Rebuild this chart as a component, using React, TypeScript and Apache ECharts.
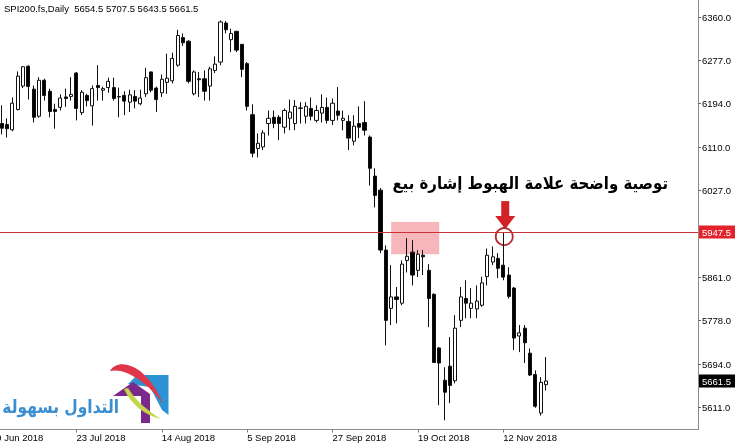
import React, { useEffect, useRef } from 'react';
import * as echarts from 'echarts';

// ---------- data ----------
const firstSlotDate = '2018-06-29'; // first weekday slot on the x axis (left of visible history)
const totalSlots = 133; // weekday slots across the plot, incl. empty future area
const leadBlank = 2; // slots before the first visible bar
const xTickLabels = ['29 Jun 2018', '23 Jul 2018', '14 Aug 2018', '5 Sep 2018', '27 Sep 2018', '19 Oct 2018', '12 Nov 2018'];
const yTickValues = [5611, 5694, 5778, 5861, 6027, 6110, 6194, 6277, 6360];

const opens = [
  6156, 6154, 6144, 6183, 6228, 6266, 6222, 6170, 6239, 6218,
  6183, 6187, 6207, 6208, 6253, 6177, 6210, 6190, 6229, 6220,
  6225, 6225, 6207, 6210, 6197, 6208, 6194, 6213, 6255, 6224,
  6215, 6235, 6238, 6268, 6321, 6314, 6213, 6242, 6242, 6228,
  6258, 6274, 6349, 6317, 6333, 6308, 6271, 6173, 6108, 6111,
  6156, 6168, 6168, 6149, 6166, 6156, 6185, 6170, 6185, 6162,
  6176, 6187, 6162, 6180, 6162, 6160, 6122, 6156, 6158, 6130,
  6055, 6028, 5913, 5801, 5823, 5811, 5893, 5909, 5874, 5903,
  5874, 5828, 5725, 5663, 5690, 5662, 5778, 5820, 5801, 5800,
  5807, 5862, 5890, 5897, 5884, 5865, 5840, 5748, 5763, 5715,
  5674, 5600, 5654.5,
];
const highs = [
  6191, 6166, 6206, 6256, 6266, 6268, 6229, 6245, 6242, 6223,
  6194, 6212, 6223, 6245, 6255, 6220, 6213, 6229, 6268, 6227,
  6244, 6244, 6225, 6218, 6221, 6220, 6221, 6263, 6256, 6227,
  6250, 6290, 6292, 6336, 6329, 6316, 6258, 6255, 6258, 6265,
  6285, 6354, 6353, 6338, 6334, 6309, 6274, 6193, 6137, 6143,
  6181, 6181, 6172, 6185, 6202, 6201, 6197, 6197, 6206, 6191,
  6212, 6206, 6204, 6226, 6181, 6172, 6172, 6189, 6199, 6133,
  6070, 6032, 5922, 5884, 5842, 5893, 5936, 5932, 5913, 5913,
  5886, 5830, 5727, 5688, 5746, 5788, 5842, 5855, 5840, 5845,
  5862, 5916, 5920, 5907, 5947.5, 5880, 5842, 5769, 5769, 5724,
  5682, 5669, 5707.5,
];
const lows = [
  6135, 6129, 6141, 6181, 6224, 6202, 6158, 6167, 6200, 6168,
  6146, 6181, 6188, 6200, 6162, 6172, 6189, 6152, 6200, 6200,
  6215, 6200, 6168, 6172, 6178, 6185, 6191, 6207, 6216, 6178,
  6207, 6213, 6233, 6265, 6305, 6233, 6210, 6207, 6200, 6200,
  6253, 6268, 6329, 6293, 6293, 6245, 6181, 6091, 6091, 6105,
  6133, 6147, 6124, 6137, 6143, 6143, 6156, 6156, 6162, 6158,
  6158, 6156, 6153, 6162, 6143, 6105, 6114, 6128, 6133, 6037,
  5995, 5907, 5730, 5769, 5772, 5807, 5870, 5845, 5861, 5865,
  5765, 5696, 5615, 5586, 5619, 5657, 5765, 5782, 5782, 5782,
  5804, 5845, 5884, 5859, 5855, 5820, 5721, 5717, 5696, 5671,
  5610, 5595, 5643.5,
];
const closes = [
  6147, 6146, 6195, 6247, 6265, 6227, 6168, 6239, 6210, 6179,
  6179, 6205, 6204, 6212, 6185, 6216, 6200, 6223, 6225, 6223,
  6237, 6204, 6208, 6199, 6211, 6199, 6205, 6244, 6220, 6202,
  6241, 6243, 6281, 6325, 6311, 6237, 6255, 6240, 6218, 6261,
  6270, 6351, 6336, 6329, 6297, 6260, 6189, 6099, 6118, 6138,
  6166, 6156, 6156, 6181, 6178, 6189, 6186, 6189, 6170, 6181,
  6187, 6162, 6195, 6172, 6166, 6128, 6151, 6149, 6143, 6070,
  6018, 5913, 5778, 5823, 5818, 5886, 5901, 5865, 5905, 5900,
  5820, 5697, 5696, 5640, 5653, 5763, 5823, 5811, 5811, 5815,
  5850, 5903, 5900, 5878, 5861, 5824, 5744, 5754, 5735, 5673,
  5613, 5659, 5661.5,
];

const titleText = 'SPI200.fs,Daily  5654.5 5707.5 5643.5 5661.5';
const signalLevel = 5947.5;
const lastClose = 5661.5;
const zoneStartBar = 73;
const zoneEndBar = 82;
const zoneTop = 5967;
const zoneBottom = 5905;
const signalBar = 94;
const headline = 'توصية واضحة علامة الهبوط إشارة بيع';
const brandText = 'التداول بسهولة';

// ---------- helpers ----------
const MONTHS = ['Jan', 'Feb', 'Mar', 'Apr', 'May', 'Jun', 'Jul', 'Aug', 'Sep', 'Oct', 'Nov', 'Dec'];
function weekdaySlots(start: string, n: number): string[] {
  const d = new Date(start + 'T00:00:00Z');
  const out: string[] = [];
  while (out.length < n) {
    const wd = d.getUTCDay();
    if (wd !== 0 && wd !== 6) out.push(`${d.getUTCDate()} ${MONTHS[d.getUTCMonth()]} ${d.getUTCFullYear()}`);
    d.setUTCDate(d.getUTCDate() + 1);
  }
  return out;
}

echarts.graphic.registerShape(
  'swooshRed',
  echarts.graphic.extendPath('M110,371 C115,362 128,362 140,371 C150,379 158,391 163,404 C156,394 148,386 138,379 C128,372 118,369 110,371 Z', {})
);
echarts.graphic.registerShape(
  'swooshGreen',
  echarts.graphic.extendPath('M124,389 C131,404 144,415 161,419 C148,411 136,401 128,388 Z', {})
);

const FONT = '"Liberation Sans", Arial, sans-serif';
const OFFSET = 12; // chart canvas starts 12px left of the page so the first slots fall off-screen

export default function App() {
  const ref = useRef<HTMLDivElement>(null);

  useEffect(() => {
    if (!ref.current) return;
    const chart = echarts.init(ref.current, undefined, { renderer: 'svg' });
    const dates = weekdaySlots(firstSlotDate, totalSlots);
    const ohlc: any[] = [];
    for (let i = 0; i < leadBlank; i++) ohlc.push(['-', '-', '-', '-']);
    for (let i = 0; i < opens.length; i++) ohlc.push([opens[i], closes[i], lows[i], highs[i]]);
    const showLabel = (_: number, v: string) => xTickLabels.indexOf(v) >= 0;

    chart.setOption({
      animation: false,
      grid: { left: OFFSET - 11.63, right: 37, top: 0, bottom: 14.5 },
      xAxis: {
        type: 'category',
        data: dates,
        boundaryGap: true,
        axisLine: { lineStyle: { color: '#8c8c8c', width: 1 } },
        axisTick: { show: true, alignWithLabel: true, interval: showLabel, length: 3, lineStyle: { color: '#777' } },
        axisLabel: { interval: showLabel, align: 'left', margin: 3, color: '#000', fontSize: 9.5, fontFamily: FONT },
        splitLine: { show: false },
      },
      yAxis: {
        type: 'value',
        position: 'right',
        min: 5568.4,
        max: 6393.2,
        splitLine: { show: false },
        axisLine: { show: true, lineStyle: { color: '#8c8c8c', width: 1 } },
        axisTick: { show: true, length: 3, customValues: yTickValues, lineStyle: { color: '#666' } },
        axisLabel: {
          customValues: yTickValues,
          formatter: (v: number) => Number(v).toFixed(1),
          margin: 4,
          color: '#000',
          fontSize: 9.5,
          fontFamily: FONT,
        },
      },
      series: [
        {
          type: 'candlestick',
          data: ohlc,
          barWidth: 3.6,
          itemStyle: { color: '#ffffff', color0: '#000000', borderColor: '#111', borderColor0: '#111', borderWidth: 1 },
          markArea: {
            silent: true,
            itemStyle: { color: 'rgba(240,110,120,0.5)' },
            data: [[{ coord: [zoneStartBar + leadBlank, zoneTop] }, { coord: [zoneEndBar + leadBlank, zoneBottom] }]],
          },
          markLine: {
            silent: true,
            symbol: ['none', 'none'],
            data: [
              {
                yAxis: signalLevel,
                lineStyle: { color: '#c8333a', width: 1, type: 'solid' },
                label: {
                  show: true, position: 'end', distance: 1,
                  formatter: (p: any) => Number(p.value).toFixed(1),
                  color: '#fff', backgroundColor: '#e3232b', padding: [2, 4, 1, 3],
                  fontSize: 9.5, fontFamily: FONT,
                },
              },
              {
                yAxis: lastClose,
                lineStyle: { color: 'rgba(0,0,0,0)', width: 0, type: 'solid' },
                label: {
                  show: true, position: 'end', distance: 1,
                  formatter: (p: any) => Number(p.value).toFixed(1),
                  color: '#fff', backgroundColor: '#000', padding: [2, 4, 1, 3],
                  fontSize: 9.5, fontFamily: FONT,
                },
              },
            ],
          },
        },
      ],
    });

    const [cx, cy] = chart.convertToPixel({ gridIndex: 0 } as any, [signalBar + leadBlank, signalLevel]) as number[];
    const ax = cx + 2;

    chart.setOption({
      graphic: [
        { type: 'rect', shape: { x: ax - 4, y: cy - 31, width: 8, height: 16 }, style: { fill: '#d42027' } },
        { type: 'polygon', shape: { points: [[ax - 10, cy - 16], [ax + 10, cy - 16], [ax, cy - 3]] }, style: { fill: '#d42027' } },
        { type: 'circle', shape: { cx: cx + 1, cy: cy + 4.5, r: 8.5 }, style: { fill: 'none', stroke: '#b52a2e', lineWidth: 1.8 } },
        {
          type: 'group',
          x: OFFSET,
          y: 0,
          children: [
            { type: 'text', x: 4, y: 3, style: { text: titleText, fill: '#000', font: `9.5px ${FONT}` } },
            {
              type: 'text', x: 668, y: 183, scaleX: 0.88,
              style: { text: headline, fill: '#000', font: 'bold 17px "DejaVu Sans"', align: 'right', verticalAlign: 'middle' },
            },
            // brand logo
            { type: 'polygon', shape: { points: [[128, 384], [137, 375], [168.5, 375], [168.5, 415], [162, 410], [150, 387]] }, style: { fill: '#2b93d3' } },
            { type: 'polygon', shape: { points: [[113, 396], [133, 382], [150, 394], [150, 423], [141, 423], [141, 396]] }, style: { fill: '#7a2a8a' } },
            { type: 'swooshRed', x: 0, y: 0, style: { fill: '#e0364a' } },
            { type: 'swooshGreen', x: 0, y: 0, style: { fill: '#c5d54a' } },
            {
              type: 'text', x: 119, y: 407, scaleX: 0.86,
              style: { text: brandText, fill: '#3b8ed0', font: 'bold 18px "DejaVu Sans"', align: 'right', verticalAlign: 'middle' },
            },
          ],
        },
      ],
    });

    return () => chart.dispose();
  }, []);

  return <div ref={ref} style={{ position: 'fixed', left: -OFFSET, top: 0, width: 735 + OFFSET, height: 444 }} />;
}
